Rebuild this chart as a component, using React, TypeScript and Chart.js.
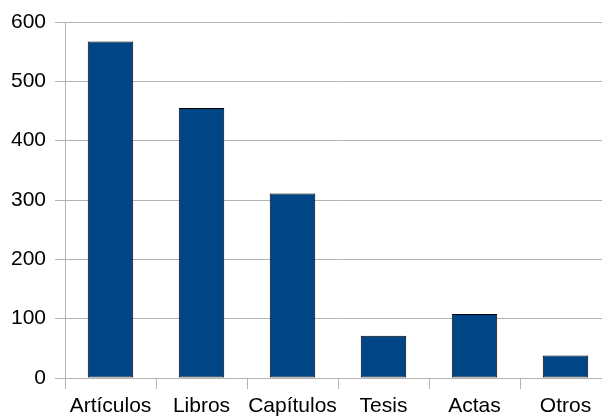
import React, { useEffect, useRef } from "react";
import { Chart, registerables } from "chart.js";

Chart.register(...registerables);

const categories = ["Artículos", "Libros", "Capítulos", "Tesis", "Actas", "Otros"];
const values = [567, 455, 311, 71, 108, 38];
const yTicks = [0, 100, 200, 300, 400, 500, 600];

export default function App() {
  const ref = useRef<HTMLCanvasElement | null>(null);
  useEffect(() => {
    if (!ref.current) return;
    const font = { family: "'Liberation Sans', Arial, sans-serif", size: 21 };
    const chart = new Chart(ref.current, {
      type: "bar",
      data: {
        labels: categories,
        datasets: [
          {
            data: values,
            backgroundColor: "#004586",
            borderColor: "#000000",
            borderWidth: 1,
            borderSkipped: false,
            barPercentage: 0.5,
            categoryPercentage: 1,
          },
        ],
      },
      options: {
        animation: false,
        responsive: false,
        maintainAspectRatio: false,
        layout: { padding: { top: 22, right: 9, bottom: 0, left: 0 } },
        plugins: { legend: { display: false }, tooltip: { enabled: false } },
        scales: {
          x: {
            offset: true,
            grid: {
              offset: true,
              drawOnChartArea: false,
              drawTicks: true,
              tickLength: 11,
              color: "#b3b3b3",
            },
            border: { color: "#b3b3b3" },
            ticks: { color: "#000", font, padding: 5, maxRotation: 0, autoSkip: false },
            afterFit: (s: any) => {
              s.height = 40;
            },
          },
          y: {
            min: 0,
            max: 600,
            afterBuildTicks: (s: any) => {
              s.ticks = yTicks.map((v) => ({ value: v }));
            },
            grid: { color: "#b3b3b3", tickLength: 10 },
            border: { color: "#b3b3b3" },
            ticks: { color: "#000", font, padding: 9 },
            afterFit: (s: any) => {
              s.width = 65;
            },
          },
        },
      },
    });
    return () => chart.destroy();
  }, []);
  return (
    <div
      style={{
        position: "fixed",
        left: 0,
        top: 0,
        width: 602,
        height: 418,
        overflow: "hidden",
        background: "#fff",
      }}
    >
      <canvas ref={ref} width={620} height={418} style={{ display: "block" }} />
    </div>
  );
}
